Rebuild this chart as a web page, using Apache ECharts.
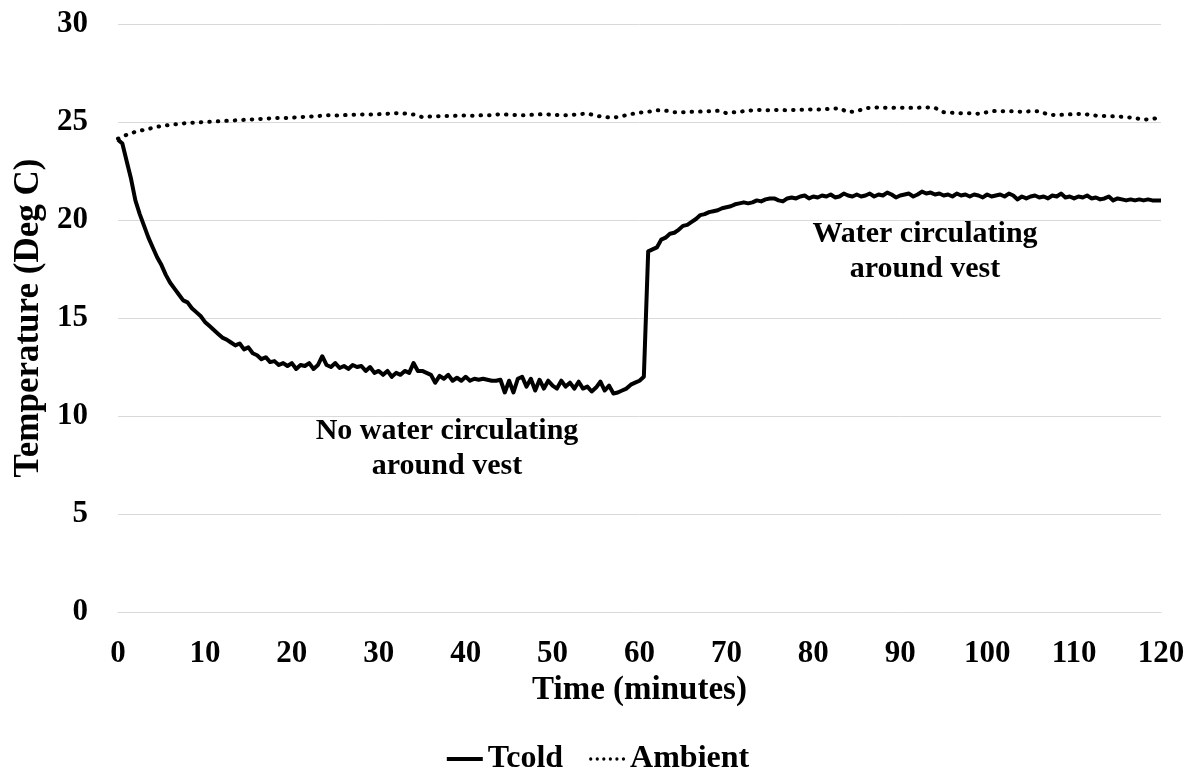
<!DOCTYPE html>
<html>
<head>
<meta charset="utf-8">
<script src="https://cdn.jsdelivr.net/npm/echarts@6/dist/echarts.min.js"></script>
<style>
html,body{margin:0;padding:0;background:#fff;}
#chart{width:1196px;height:769px;}
</style>
</head>
<body>
<div id="chart"></div>
<script>
// ---- data ----
const tcoldStep = 0.5; // minutes between Tcold readings
const tcoldValues = [
 24.1,23.9,23.0,22.1,21.0,20.3,19.7,19.1,18.6,18.1,
 17.7,17.2,16.8,16.5,16.2,15.9,15.8,15.5,15.3,15.1,
 14.8,14.6,14.4,14.2,14.0,13.9,13.75,13.6,13.7,13.4,
 13.5,13.2,13.1,12.9,13.0,12.75,12.8,12.6,12.7,12.55,
 12.7,12.4,12.6,12.55,12.7,12.4,12.6,13.05,12.6,12.5,
 12.7,12.45,12.55,12.4,12.6,12.5,12.55,12.3,12.5,12.2,
 12.3,12.1,12.3,12.0,12.2,12.1,12.3,12.2,12.7,12.3,
 12.3,12.2,12.1,11.7,12.05,11.9,12.1,11.8,11.95,11.8,
 12.0,11.8,11.9,11.85,11.9,11.85,11.8,11.8,11.85,11.2,
 11.8,11.2,11.9,12.0,11.5,11.9,11.3,11.85,11.4,11.8,
 11.55,11.4,11.8,11.5,11.7,11.4,11.75,11.4,11.5,11.25,
 11.45,11.75,11.3,11.55,11.15,11.2,11.3,11.4,11.6,11.7,
 11.8,12.0,18.4,18.5,18.6,19.0,19.1,19.3,19.35,19.5,
 19.7,19.75,19.9,20.05,20.25,20.3,20.4,20.45,20.5,20.6,
 20.65,20.7,20.8,20.85,20.9,20.85,20.9,21.0,20.95,21.05,
 21.1,21.1,21.0,20.95,21.1,21.15,21.1,21.2,21.25,21.1,
 21.2,21.15,21.25,21.2,21.3,21.15,21.2,21.35,21.25,21.2,
 21.3,21.2,21.25,21.35,21.2,21.3,21.25,21.4,21.3,21.15,
 21.25,21.3,21.35,21.2,21.3,21.45,21.35,21.4,21.3,21.35,
 21.25,21.3,21.2,21.35,21.25,21.3,21.2,21.3,21.25,21.15,
 21.3,21.2,21.25,21.3,21.2,21.35,21.25,21.05,21.2,21.1,
 21.2,21.25,21.15,21.2,21.1,21.25,21.2,21.35,21.15,21.2,
 21.1,21.2,21.15,21.25,21.1,21.15,21.05,21.1,21.2,21.0,
 21.1,21.05,21.0,21.05,21.0,21.05,21.0,21.05,21.0,21.0,
 21.0
];
const ambientStep = 1; // minutes between Ambient readings
const ambientValues = [
 24.15,24.35,24.5,24.6,24.7,24.8,24.85,24.9,24.95,24.97,
 25.0,25.02,25.05,25.07,25.1,25.12,25.15,25.17,25.2,25.2,
 25.22,25.25,25.28,25.3,25.35,25.33,25.35,25.37,25.38,25.38,
 25.4,25.42,25.45,25.43,25.38,25.25,25.28,25.3,25.3,25.32,
 25.33,25.32,25.35,25.35,25.4,25.37,25.35,25.35,25.38,25.4,
 25.37,25.35,25.35,25.4,25.43,25.32,25.25,25.22,25.3,25.4,
 25.48,25.52,25.6,25.58,25.5,25.5,25.52,25.53,25.55,25.57,
 25.45,25.5,25.55,25.6,25.62,25.6,25.62,25.6,25.62,25.63,
 25.65,25.63,25.68,25.7,25.5,25.55,25.7,25.75,25.73,25.72,
 25.73,25.72,25.73,25.75,25.72,25.5,25.47,25.45,25.45,25.42,
 25.5,25.57,25.55,25.55,25.52,25.55,25.55,25.38,25.35,25.38,
 25.4,25.42,25.35,25.3,25.3,25.28,25.25,25.2,25.12,25.15,
 25.25
];
const xTicks = [0,10,20,30,40,50,60,70,80,90,100,110,120];
const yTicks = [0,5,10,15,20,25,30];
const seriesNames = ['Tcold','Ambient'];
const annotations = [
  {text:'No water circulating\naround vest', x:447, y:449},
  {text:'Water circulating\naround vest', x:925, y:252}
];

const tcoldData = tcoldValues.map((v,i)=>[i*tcoldStep, v]);
const ambientData = ambientValues.map((v,i)=>[i*ambientStep, v]);

const FONT = '"Liberation Serif", "Times New Roman", serif';
const DOTS_ICON = 'path://' +
  'M0,1.5A1.5,1.5 0 1,1 3,1.5A1.5,1.5 0 1,1 0,1.5Z' +
  'M6,1.5A1.5,1.5 0 1,1 9,1.5A1.5,1.5 0 1,1 6,1.5Z' +
  'M12,1.5A1.5,1.5 0 1,1 15,1.5A1.5,1.5 0 1,1 12,1.5Z' +
  'M18,1.5A1.5,1.5 0 1,1 21,1.5A1.5,1.5 0 1,1 18,1.5Z' +
  'M24,1.5A1.5,1.5 0 1,1 27,1.5A1.5,1.5 0 1,1 24,1.5Z' +
  'M30,1.5A1.5,1.5 0 1,1 33,1.5A1.5,1.5 0 1,1 30,1.5Z';

const chart = echarts.init(document.getElementById('chart'), null, {renderer:'canvas'});
chart.setOption({
  backgroundColor:'#ffffff',
  animation:false,
  textStyle:{fontFamily:FONT, fontWeight:'bold', color:'#000'},
  grid:{left:118, right:35, top:24, bottom:157, containLabel:false},
  xAxis:{
    type:'value', min:xTicks[0], max:xTicks[xTicks.length-1], interval:10,
    name:'Time (minutes)', nameLocation:'middle', nameGap:62,
    nameTextStyle:{fontFamily:FONT, fontWeight:'bold', fontSize:33, color:'#000'},
    axisLine:{show:true, lineStyle:{color:'#d9d9d9', width:1}},
    axisTick:{show:false},
    splitLine:{show:false},
    axisLabel:{fontFamily:FONT, fontWeight:'bold', fontSize:31, color:'#000', margin:26}
  },
  yAxis:{
    type:'value', min:yTicks[0], max:yTicks[yTicks.length-1], interval:5,
    name:'Temperature (Deg C)', nameLocation:'middle', nameGap:72,
    nameTextStyle:{fontFamily:FONT, fontWeight:'bold', fontSize:35, color:'#000'},
    axisLine:{show:false}, axisTick:{show:false},
    splitLine:{show:true, lineStyle:{color:'#d9d9d9', width:1}},
    axisLabel:{fontFamily:FONT, fontWeight:'bold', fontSize:31, color:'#000', margin:30}
  },
  legend:{
    top:738, left:'center', itemGap:26, itemWidth:36, itemHeight:4,
    textStyle:{fontFamily:FONT, fontWeight:'bold', fontSize:32, color:'#000'},
    data:[
      {name:seriesNames[0], icon:'rect', itemStyle:{color:'#000'}},
      {name:seriesNames[1], icon:DOTS_ICON, itemStyle:{color:'#000'}}
    ]
  },
  graphic: annotations.map(a=>({
    type:'text', x:a.x, y:a.y, z:10,
    style:{text:a.text, fontFamily:FONT, fontWeight:'bold', fontSize:30, lineHeight:35,
      fill:'#000', textAlign:'center', textVerticalAlign:'middle'}
  })),
  series:[
    {name:seriesNames[0], type:'line', data:tcoldData, symbol:'none', showSymbol:false,
     lineStyle:{color:'#000', width:4, join:'round'}, itemStyle:{color:'#000'}},
    {name:seriesNames[1], type:'line', data:ambientData, symbol:'none', showSymbol:false,
     lineStyle:{color:'#000', width:4, type:[0.5,8], cap:'round'}, itemStyle:{color:'#000'}}
  ]
});
</script>
</body>
</html>
